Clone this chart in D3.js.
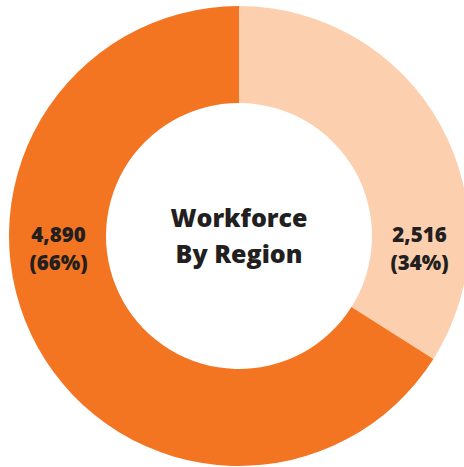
<!DOCTYPE html>
<html lang="en">
<head>
<meta charset="UTF-8">
<script src="https://d3js.org/d3.v7.min.js"></script>
<style>
  body { margin: 0; background: #fff; }
  text { font-family: "Open Sans", "Noto Sans", sans-serif; font-weight: 800; fill: #231f20; }
</style>
</head>
<body>
<svg class="chart"></svg>
<script>
const regions = ["Region B", "Region A"];
const values = [2516, 4890];
const percents = ["34%", "66%"];
const colors = ["#fccfae", "#f37521"];
const title = ["Workforce", "By Region"];

const width = 464, height = 467;
const cx = 239, cy = 236;
const outerR = 230, innerR = 133;

const svg = d3.select(".chart")
    .attr("width", width)
    .attr("height", height);

const g = svg.append("g")
    .attr("transform", `translate(${cx},${cy})`);

const data = regions.map((r, i) => ({region: r, value: values[i], pct: percents[i], color: colors[i]}));

const pie = d3.pie().sort(null).value(d => d.value);
const arc = d3.arc().innerRadius(innerR).outerRadius(outerR);

g.selectAll("path.slice")
  .data(pie(data))
  .join("path")
    .attr("class", "slice")
    .attr("d", arc)
    .attr("fill", d => d.data.color);

// value labels: right side for first slice, left side for second
const midR = (innerR + outerR) / 2;
const side = [1, -1];
const lbl = g.selectAll("g.lbl")
  .data(data)
  .join("g")
    .attr("class", "lbl")
    .attr("transform", (d, i) => `translate(${side[i] * (midR - 1)},0)`);

lbl.append("text")
    .attr("text-anchor", "middle")
    .attr("y", 6)
    .style("font-size", "20.5px")
    .text(d => d3.format(",")(d.value));

lbl.append("text")
    .attr("text-anchor", "middle")
    .attr("y", 34)
    .style("font-size", "20.5px")
    .text(d => `(${d.pct})`);

// centre title
g.selectAll("text.title")
  .data(title)
  .join("text")
    .attr("class", "title")
    .attr("text-anchor", "middle")
    .attr("y", (d, i) => -9 + i * 36)
    .style("font-size", "25px")
    .text(d => d);
</script>
</body>
</html>
